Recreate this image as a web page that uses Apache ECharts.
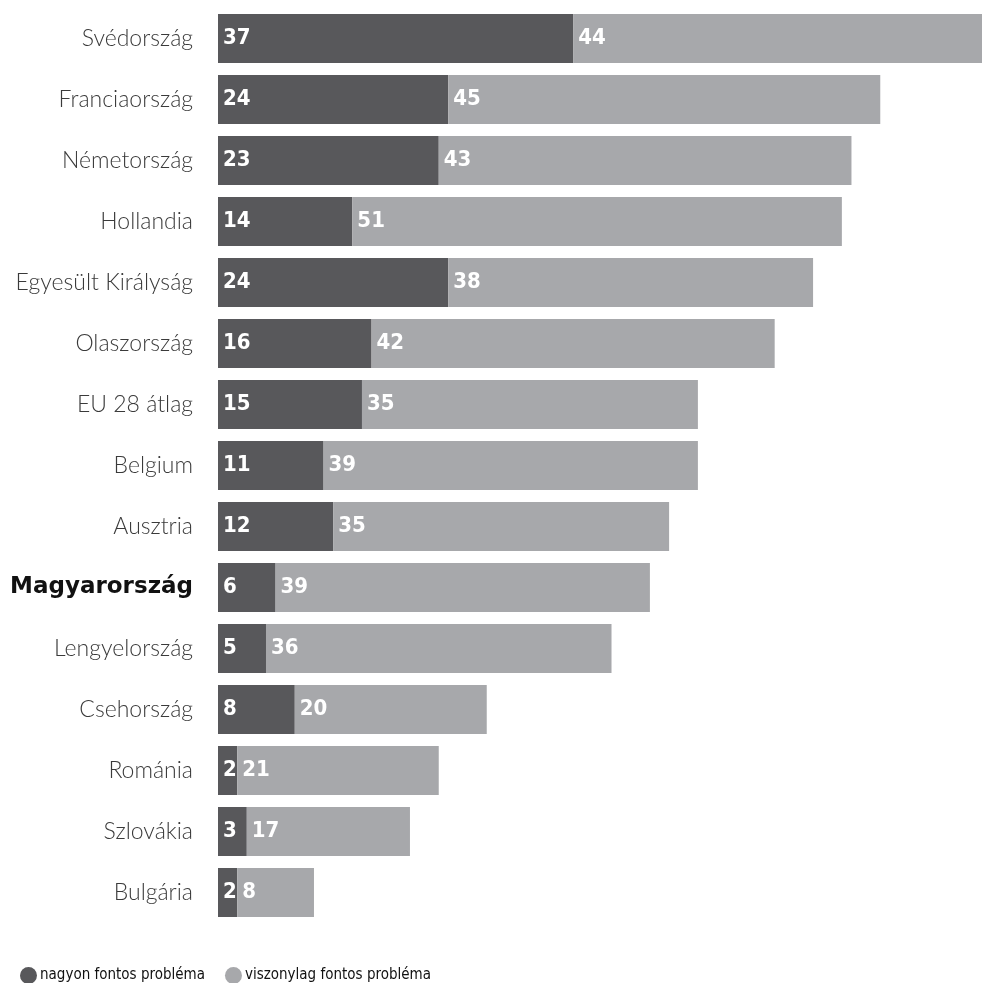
<!DOCTYPE html>
<html>
<head>
<meta charset="utf-8">
<script src="https://cdn.jsdelivr.net/npm/echarts@6/dist/echarts.min.js"></script>
<style>html,body{margin:0;padding:0;background:#fff}#c{width:982px;height:983px}</style>
</head>
<body>
<div id="c"></div>
<script>
const categories = ["Svédország","Franciaország","Németország","Hollandia","Egyesült Királyság","Olaszország","EU 28 átlag","Belgium","Ausztria","Magyarország","Lengyelország","Csehország","Románia","Szlovákia","Bulgária"];
const veryImportant = [37,24,23,14,24,16,15,11,12,6,5,8,2,3,2];
const ratherImportant = [44,45,43,51,38,42,35,39,35,39,36,20,21,17,8];
const seriesNames = ["nagyon fontos probléma","viszonylag fontos probléma"];
const highlight = "Magyarország";

const chart = echarts.init(document.getElementById('c'));
const labelStyle = {
  show: true, position: 'insideLeft', distance: 5,
  color: '#fff', fontFamily: '"DejaVu Sans Condensed", "DejaVu Sans"', fontWeight: 'bold', fontSize: 22
};
chart.setOption({
  animation: false,
  grid: {left: 218, right: 0, top: 8, height: 915},
  legend: {
    left: 15, top: 962, itemWidth: 17, itemHeight: 17, itemGap: 20, icon: 'circle',
    textStyle: {fontFamily: '"DejaVu Sans Condensed", "DejaVu Sans"', fontSize: 15, color: '#111', padding: [0,0,0,-2]},
    data: seriesNames
  },
  xAxis: {type: 'value', min: 0, max: 79.6, show: false},
  yAxis: {
    type: 'category', data: categories, inverse: true,
    axisLine: {show: false}, axisTick: {show: false},
    axisLabel: {
      margin: 25, fontSize: 23, fontFamily: 'Lato', fontWeight: 300, color: '#3a3a3a',
      formatter: v => v === highlight ? '{b|' + v + '}' : v,
      rich: {b: {fontSize: 23, fontFamily: 'DejaVu Sans', fontWeight: 'bold', color: '#111'}}
    }
  },
  series: [
    {name: seriesNames[0], type: 'bar', stack: 'a', data: veryImportant, barWidth: 49,
     itemStyle: {color: '#58585b'}, label: labelStyle},
    {name: seriesNames[1], type: 'bar', stack: 'a', data: ratherImportant, barWidth: 49,
     itemStyle: {color: '#a7a8ab'}, label: labelStyle}
  ]
});
</script>
</body>
</html>
